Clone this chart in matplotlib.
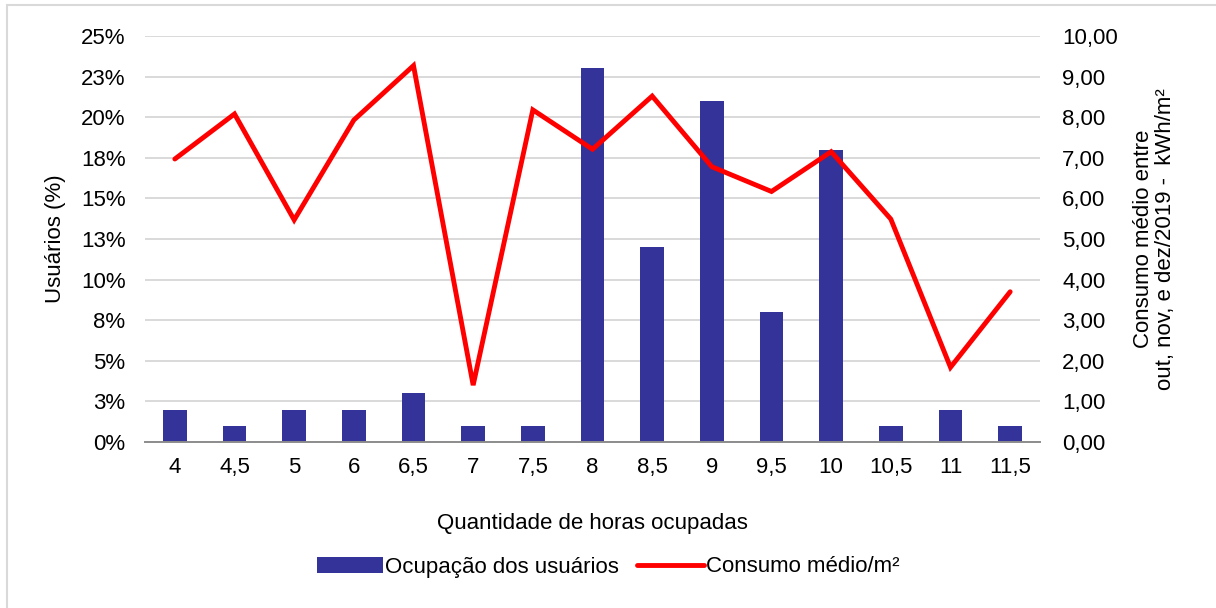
import matplotlib

matplotlib.use("Agg")
import matplotlib.pyplot as plt
from matplotlib.patches import Rectangle

plt.rcParams["font.family"] = ["Liberation Sans", "DejaVu Sans"]

# Hours occupied per day, share of users (%) and mean consumption (kWh/m²)
horas = ["4", "4,5", "5", "6", "6,5", "7", "7,5", "8", "8,5", "9", "9,5", "10", "10,5", "11", "11,5"]
usuarios_pct = [2, 1, 2, 2, 3, 1, 1, 23, 12, 21, 8, 18, 1, 2, 1]
consumo_m2 = [6.97, 8.08, 5.47, 7.93, 9.27, 1.40, 8.18, 7.21, 8.52, 6.78, 6.17, 7.15, 5.49, 1.84, 3.70]

pct_ticks = [0, 2.5, 5, 7.5, 10, 12.5, 15, 17.5, 20, 22.5, 25]
pct_labels = ["0%", "3%", "5%", "8%", "10%", "13%", "15%", "18%", "20%", "23%", "25%"]
kwh_ticks = list(range(0, 11))

BAR_COLOR = "#333399"
LINE_COLOR = "#ff0000"
GRID_COLOR = "#d9d9d9"
FS = 16

fig = plt.figure(figsize=(12.16, 6.08), dpi=100)
fig.patches.append(Rectangle((7 / 1216, -0.1), 1.2, 1 - 5 / 608 + 0.1,
                             transform=fig.transFigure, fill=False,
                             edgecolor="#d9d9d9", linewidth=1.5))

ax = fig.add_axes([145 / 1216, 1 - 442 / 608, (1040 - 145) / 1216, (442 - 36) / 608])
x = list(range(len(horas)))
bars = ax.bar(x, usuarios_pct, width=0.4, color=BAR_COLOR, zorder=2,
              label="Ocupação dos usuários")
ax.set_xlim(-0.5, len(horas) - 0.5)
ax.set_ylim(0, 25)
ax.set_yticks(pct_ticks)
ax.set_yticklabels(pct_labels)
ax.yaxis.grid(True, color=GRID_COLOR, linewidth=1.4, zorder=0)
ax.set_axisbelow(True)
ax.set_xticks(x)
ax.set_xticklabels(horas)
ax.tick_params(axis="both", length=0, labelsize=FS, colors="black")
ax.tick_params(axis="x", pad=11)
ax.tick_params(axis="y", pad=14)
for s in ("top", "left", "right"):
    ax.spines[s].set_visible(False)
ax.spines["bottom"].set_color("#8c8c8c")
ax.spines["bottom"].set_linewidth(1.4)
ax.spines["bottom"].set_zorder(3)
ax.set_ylabel("Usuários (%)", fontsize=FS)
ax.yaxis.set_label_coords(-0.088, 0.5)
ax.set_xlabel("Quantidade de horas ocupadas", fontsize=FS, labelpad=25)

ax2 = ax.twinx()
line, = ax2.plot(x, consumo_m2, color=LINE_COLOR, linewidth=3.5,
                 solid_joinstyle="miter", solid_capstyle="round", zorder=4,
                 label="Consumo médio/m²")
ax2.set_ylim(0, 10)
ax2.set_yticks(kwh_ticks)
ax2.set_yticklabels([f"{v:.2f}".replace(".", ",") for v in kwh_ticks])
ax2.tick_params(axis="y", length=0, labelsize=FS, pad=16)
for s in ("top", "left", "right", "bottom"):
    ax2.spines[s].set_visible(False)
ax2.set_ylabel("Consumo médio entre\nout, nov, e dez/2019 -  kWh/m²", fontsize=FS,
               linespacing=1.05)
ax2.yaxis.set_label_coords(1.104, 0.5)

fig.legend([bars, line], ["Ocupação dos usuários", "Consumo médio/m²"],
           loc="center", bbox_to_anchor=(608 / 1216, 1 - 567 / 608), ncol=2,
           frameon=False, fontsize=FS, handlelength=3.0, handletextpad=0.1,
           columnspacing=0.8)

fig.savefig("out.png", dpi=100)
